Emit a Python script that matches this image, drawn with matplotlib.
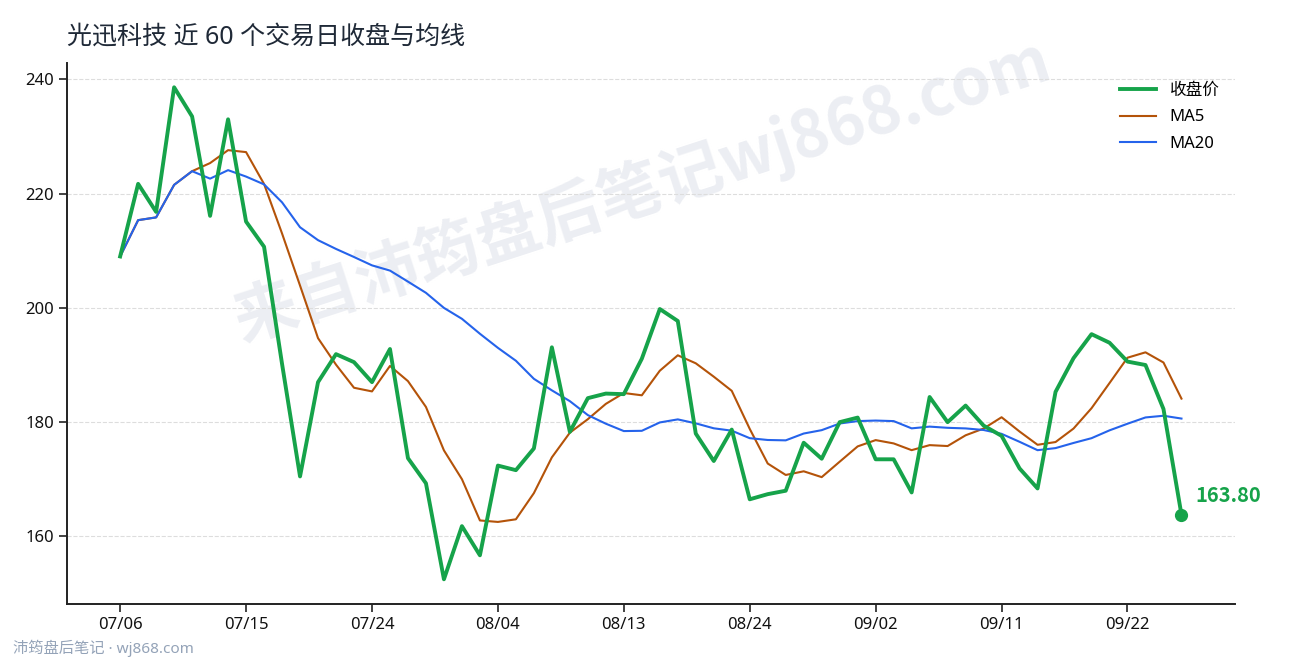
import numpy as np
import pandas as pd
import matplotlib
matplotlib.use("Agg")
import matplotlib.pyplot as plt

plt.rcParams['font.family'] = ['Noto Sans', 'Noto Sans CJK SC', 'DejaVu Sans']

# ------------------------------------------------------------------
# data: 60 trading days of close prices
# ------------------------------------------------------------------
close = [209.0, 221.7, 216.8, 238.6, 233.5, 216.1, 233.0, 215.1, 210.7, 190.2,
         170.5, 187.0, 191.9, 190.5, 187.0, 192.8, 173.7, 169.3, 152.5, 161.8,
         156.7, 172.4, 171.6, 175.4, 193.1, 178.3, 184.2, 185.0, 184.9, 191.1,
         199.8, 197.7, 178.0, 173.2, 178.7, 166.5, 167.4, 168.0, 176.4, 173.6,
         180.0, 180.8, 173.5, 173.5, 167.7, 184.4, 180.0, 182.9, 179.4, 177.6,
         171.9, 168.4, 185.3, 191.2, 195.4, 193.9, 190.6, 190.0, 182.3, 163.8]

tick_labels = ["07/06", "07/15", "07/24", "08/04", "08/13",
               "08/24", "09/02", "09/11", "09/22"]
tick_step = 7

title = "光迅科技 近 60 个交易日收盘与均线"
watermark = "来自沛筠盘后笔记wj868.com"
footer = "沛筠盘后笔记 · wj868.com"

s = pd.Series(close)
ma5 = s.rolling(5, min_periods=1).mean()
ma20 = s.rolling(20, min_periods=1).mean()
x = np.arange(len(close))

# ------------------------------------------------------------------
# plot
# ------------------------------------------------------------------
fig = plt.figure(figsize=(12.9, 6.6), dpi=100)
ax = fig.add_axes([0.052, 0.085, 0.905, 0.82])

green = "#16a34a"
ax.plot(x, close, color=green, lw=2.8, label="收盘价", zorder=4)
ax.plot(x, ma5, color="#b45309", lw=1.5, label="MA5", zorder=3)
ax.plot(x, ma20, color="#2563eb", lw=1.5, label="MA20", zorder=3)

# last point marker + label (CJK family has a real bold weight)
ax.plot(x[-1], close[-1], "o", color=green, ms=8.5, zorder=5)
ax.annotate(f"{close[-1]:.2f}", (x[-1], close[-1]), xytext=(10, 6),
            textcoords="offset points", color=green, fontsize=14.5,
            fontweight="bold", va="bottom", ha="left",
            family=["Noto Sans CJK SC", "DejaVu Sans"])

ax.set_xticks(x[::tick_step])
ax.set_xticklabels(tick_labels)
ax.set_yticks([160, 180, 200, 220, 240])

ax.grid(axis="y", linestyle="--", color="#dddddd", lw=0.8)
ax.set_axisbelow(True)
for side in ["top", "right"]:
    ax.spines[side].set_visible(False)
for side in ["left", "bottom"]:
    ax.spines[side].set_linewidth(1.4)
    ax.spines[side].set_color("#222222")
ax.tick_params(labelsize=12, length=6, width=1.2, color="#222222",
               labelcolor="#111111")

ax.legend(loc="upper right", frameon=False, fontsize=12,
          handlelength=2.2, handletextpad=0.8, labelspacing=0.62,
          bbox_to_anchor=(1.0, 0.99))

# watermark behind the lines
fig.text(0.498, 0.712, watermark, fontsize=46, fontweight="bold",
         color="#eceef3", rotation=18, ha="center", va="center",
         family=["Noto Sans CJK SC", "DejaVu Sans"], zorder=-1)
ax.patch.set_alpha(0)

# title, footer
fig.text(0.052, 0.944, title, fontsize=18, color="#1f2937", va="center", ha="left")
fig.text(0.01, 0.018, footer, fontsize=11, color="#94a3b8", va="center", ha="left")

fig.savefig("out.png", dpi=100)
